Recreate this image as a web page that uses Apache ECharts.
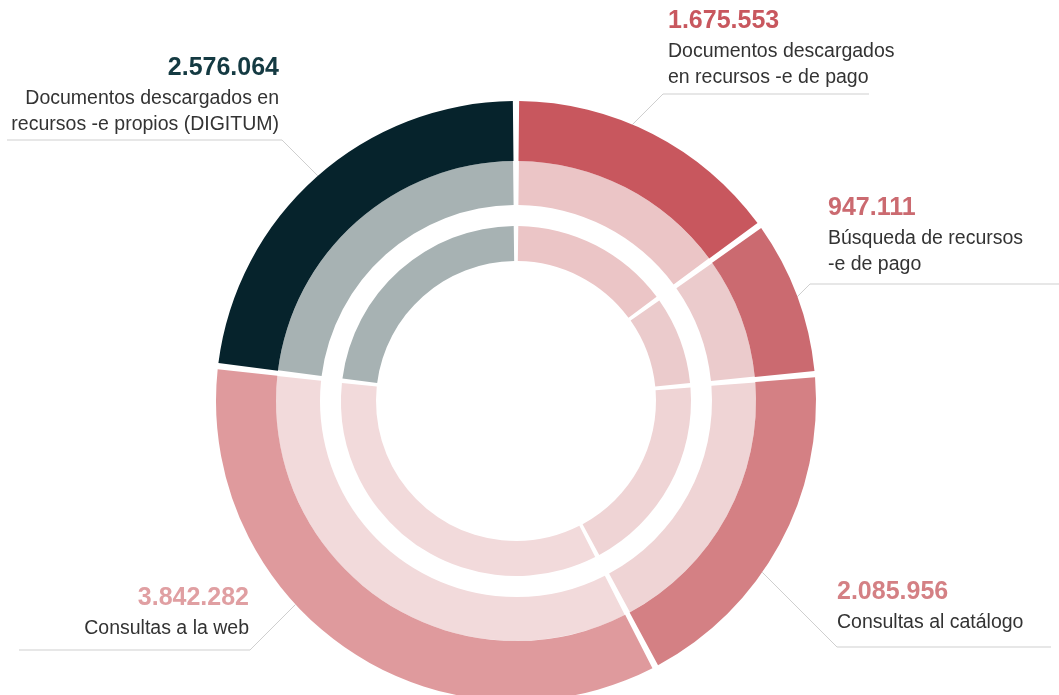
<!DOCTYPE html>
<html><head><meta charset="utf-8">
<script src="https://cdn.jsdelivr.net/npm/echarts@6/dist/echarts.min.js"></script>
<style>html,body{margin:0;padding:0;background:#fff}#c{width:1059px;height:695px}</style>
</head><body><div id="c"></div>
<script>
const categories = [
  'Documentos descargados\nen recursos -e de pago',
  'Búsqueda de recursos\n-e de pago',
  'Consultas al catálogo',
  'Consultas a la web',
  'Documentos descargados en\nrecursos -e propios (DIGITUM)'
];
const values = [1675553, 947111, 2085956, 3842282, 2576064];
const outerColors = ['#c8575e', '#cb6a70', '#d48084', '#df9a9d', '#06232c'];
const ringColors  = ['#ebc5c6', '#ebcbcc', '#efd4d5', '#f2dadb', '#a7b2b3'];
const valueColors = ['#c8575e', '#cb6a70', '#d48084', '#e09fa2', '#143a42'];

const CX = 516, CY = 401, R = 300;
// label placement (layout only): text anchor, elbow of leader line, underline end
const labelPlace = [
  {tx: 668, ty: 3,   align: 'left',  ex: 663, ey: 94,  fx: 869},
  {tx: 828, ty: 190, align: 'left',  ex: 810, ey: 284, fx: 1060},
  {tx: 837, ty: 574, align: 'left',  ex: 837, ey: 647, fx: 1051},
  {tx: 249, ty: 580, align: 'right', ex: 250, ey: 650, fx: 19},
  {tx: 279, ty: 50,  align: 'right', ex: 282, ey: 140, fx: 7}
];

function fmt(v) { return String(v).replace(/\B(?=(\d{3})+(?!\d))/g, '.'); }

function startOnCircle(ex, ey) {
  const dx = ex < CX ? 1 : -1;
  const dy = ey < CY ? 1 : -1;
  const ax = ex - CX, ay = ey - CY;
  const a = 2, b = 2 * (ax * dx + ay * dy), c = ax * ax + ay * ay - R * R;
  const t = (-b - Math.sqrt(b * b - 4 * a * c)) / (2 * a);
  return [ex + dx * t, ey + dy * t];
}

const rich = {
  d: {fontSize: 19.5, lineHeight: 26, color: '#333333', fontFamily: 'Liberation Sans, Arial, sans-serif'}
};
valueColors.forEach((c, i) => {
  rich['v' + i] = {fontSize: 25, fontWeight: 'bold', lineHeight: 36, color: c, fontFamily: 'Liberation Sans, Arial, sans-serif'};
});

const chart = echarts.init(document.getElementById('c'), null, {renderer: 'canvas'});
const base = {
  type: 'pie',
  center: [CX, CY],
  startAngle: 90,
  clockwise: true,
  silent: true,
  animation: false,
  avoidLabelOverlap: false,
  emphasis: {disabled: true}
};
chart.setOption({
  backgroundColor: '#ffffff',
  animation: false,
  series: [
    Object.assign({}, base, {
      name: 'outer',
      radius: [240, R],
      padAngle: 1.2,
      z: 3,
      label: {
        show: true,
        position: 'outside',
        formatter: p => '{v' + p.dataIndex + '|' + fmt(p.value) + '}\n{d|' + p.name + '}',
        rich: rich
      },
      labelLine: {show: true, smooth: false, lineStyle: {color: '#cfcfcf', width: 1}},
      labelLayout: function (params) {
        const p = labelPlace[params.dataIndex];
        return {
          x: p.tx, y: p.ty, align: p.align, verticalAlign: 'top',
          labelLinePoints: [startOnCircle(p.ex, p.ey), [p.ex, p.ey], [p.fx, p.ey]]
        };
      },
      data: values.map((v, i) => ({value: v, name: categories[i], itemStyle: {color: outerColors[i]}}))
    }),
    Object.assign({}, base, {
      name: 'middle',
      radius: [196, 240],
      padAngle: 1.4,
      label: {show: false},
      labelLine: {show: false},
      data: values.map((v, i) => ({value: v, name: categories[i], itemStyle: {color: ringColors[i]}}))
    }),
    Object.assign({}, base, {
      name: 'inner',
      radius: [140, 175],
      padAngle: 1.5,
      label: {show: false},
      labelLine: {show: false},
      data: values.map((v, i) => ({value: v, name: categories[i], itemStyle: {color: ringColors[i]}}))
    })
  ]
});
</script>
</body></html>
